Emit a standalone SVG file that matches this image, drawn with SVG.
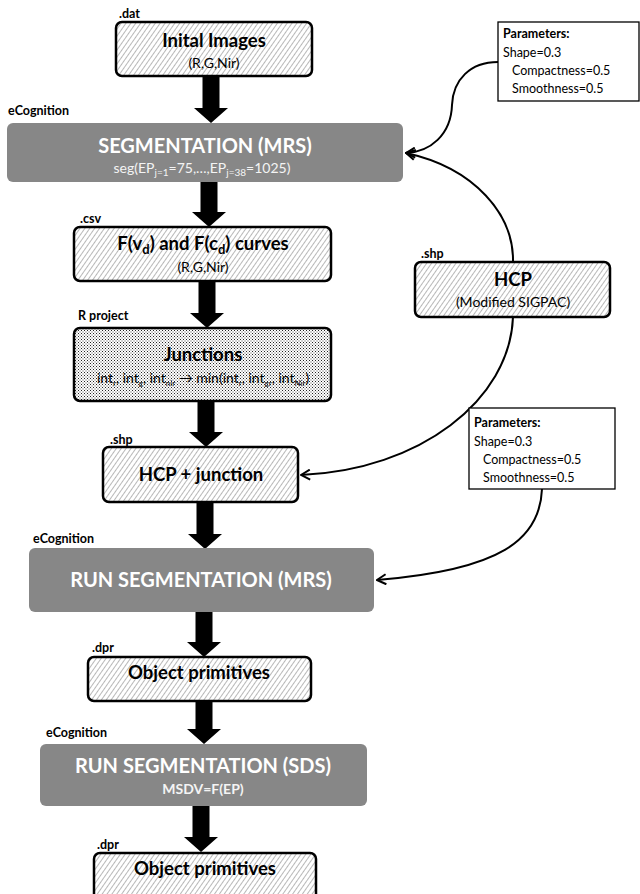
<svg xmlns="http://www.w3.org/2000/svg" width="640" height="894" viewBox="0 0 640 894">
<style>
text{font-family:Lato,"Open Sans","Liberation Sans",sans-serif;fill:#000}
.lbl{font-size:12.5px;font-weight:bold}
.hb{fill:url(#hatch);stroke:#000;stroke-width:2.5}
.db{fill:url(#dots);stroke:#000;stroke-width:2.5}
.gb{fill:#878787;stroke:none}
.t1{font-size:18.5px;font-weight:bold;text-anchor:middle}
.t2{font-size:14px;text-anchor:middle}
.gt{font-size:20px;font-weight:bold;text-anchor:middle;fill:#fff}
.gs{font-size:14px;text-anchor:middle;fill:#f4f4f4}
.pb{fill:#fff;stroke:#000;stroke-width:1.3}
.pt{font-size:12.5px}
.blk{fill:#000}
.cv{fill:none;stroke:#000;stroke-width:2}
</style>
<defs>
<pattern id="hatch" patternUnits="userSpaceOnUse" width="4" height="4" patternTransform="rotate(35)">
<rect width="4" height="4" fill="#fff"/>
<line x1="0.5" y1="0" x2="0.5" y2="4" stroke="#b0b0b0" stroke-width="0.9"/>
</pattern>
<pattern id="dots" patternUnits="userSpaceOnUse" width="3" height="3">
<rect width="3" height="3" fill="#fff"/>
<rect x="0" y="0" width="1" height="1" fill="#222"/>
<rect x="1.5" y="1.5" width="1" height="1" fill="#444"/>
</pattern>
<marker id="open" viewBox="0 0 12 12" refX="11" refY="6" markerWidth="12" markerHeight="12" markerUnits="userSpaceOnUse" orient="auto">
<path d="M2,1 L11,6 L2,11" fill="none" stroke="#000" stroke-width="2"/>
</marker>
</defs>

<g id="connectors">
<polygon class="blk" points="202.5,76 219.5,76 219.5,108 228,108 211,123 194,108 202.5,108"/>
<polygon class="blk" points="200.5,182 217.5,182 217.5,212 226,212 209,227 192,212 200.5,212"/>
<polygon class="blk" points="198.5,281 215.5,281 215.5,313 224,313 207,328 190,313 198.5,313"/>
<polygon class="blk" points="197.5,401 214.5,401 214.5,432 223,432 206,447 189,432 197.5,432"/>
<polygon class="blk" points="196.5,502 213.5,502 213.5,534 222,534 205,549 188,534 196.5,534"/>
<polygon class="blk" points="195.5,612 212.5,612 212.5,642 221,642 204,657 187,642 195.5,642"/>
<polygon class="blk" points="195.5,701 212.5,701 212.5,729 221,729 204,744 187,729 195.5,729"/>
<polygon class="blk" points="192.5,806 209.5,806 209.5,837 218,837 201,852 184,837 192.5,837"/>
<path class="cv" d="M498,62 C470,62 453,80 452,105 C451,135 430,152 406,153" marker-end="url(#open)"/>
<path class="cv" d="M513,262 C514,215 475,168 406,153" marker-end="url(#open)"/>
<path class="cv" d="M513,317 C510,400 420,470 301,475" marker-end="url(#open)"/>
<path class="cv" d="M542,489 C540,540 500,570 377,580" marker-end="url(#open)"/>
</g>

<g id="initial-images">
<text class="lbl" x="119" y="18">.dat</text>
<rect class="hb" x="116" y="22" width="196" height="54" rx="6"/>
<text class="t1" x="214" y="47">Inital Images</text>
<text class="t2" x="214" y="68">(R,G,Nir)</text>
</g>

<g id="segmentation">
<text class="lbl" x="8" y="115">eCognition</text>
<rect class="gb" x="7" y="123" width="396" height="59" rx="6"/>
<text class="gt" x="205" y="153">SEGMENTATION (MRS)</text>
<text class="gs" x="202" y="173">seg(EP<tspan dy="3" font-size="10">j=1</tspan><tspan dy="-3">=75,…,EP</tspan><tspan dy="3" font-size="10">j=38</tspan><tspan dy="-3">=1025)</tspan></text>
</g>

<g id="curves">
<text class="lbl" x="80" y="223">.csv</text>
<rect class="hb" x="74" y="227" width="257" height="54" rx="6"/>
<text class="t1" x="203" y="250">F(v<tspan dy="4" font-size="13">d</tspan><tspan dy="-4">) and F(c</tspan><tspan dy="4" font-size="13">d</tspan><tspan dy="-4">) curves</tspan></text>
<text class="t2" x="203" y="272">(R,G,Nir)</text>
</g>

<g id="junctions">
<text class="lbl" x="78" y="320">R project</text>
<rect class="db" x="74" y="328" width="257" height="73" rx="6"/>
<text class="t1" x="203" y="361" font-size="23.5">Junctions</text>
<text class="t2" x="203" y="383" font-size="13" fill="#333">int<tspan dy="3" font-size="8">r</tspan><tspan dy="-3">, int</tspan><tspan dy="3" font-size="8">g</tspan><tspan dy="-3">, int</tspan><tspan dy="3" font-size="8">nir</tspan><tspan dy="-3"> → min(int</tspan><tspan dy="3" font-size="8">r</tspan><tspan dy="-3">, int</tspan><tspan dy="3" font-size="8">gr</tspan><tspan dy="-3">, int</tspan><tspan dy="3" font-size="8">Nir</tspan><tspan dy="-3">)</tspan></text>
</g>

<g id="hcp">
<text class="lbl" x="421" y="258">.shp</text>
<rect class="hb" x="415" y="262" width="195" height="55" rx="6"/>
<text class="t1" x="513" y="286">HCP</text>
<text class="t2" x="513" y="307" font-size="15">(Modified SIGPAC)</text>
</g>

<g id="params-1">
<rect class="pb" x="498" y="22" width="141" height="79"/>
<text class="pt" x="503" y="38" font-weight="bold">Parameters:</text>
<text class="pt" x="503" y="57">Shape=0.3</text>
<text class="pt" x="512" y="75">Compactness=0.5</text>
<text class="pt" x="512" y="93">Smoothness=0.5</text>
</g>

<g id="hcp-junction">
<text class="lbl" x="110" y="444">.shp</text>
<rect class="hb" x="103" y="447" width="195" height="55" rx="6"/>
<text class="t1" x="201" y="481">HCP + junction</text>
</g>

<g id="params-2">
<rect class="pb" x="469" y="408" width="146" height="81"/>
<text class="pt" x="474" y="427" font-weight="bold">Parameters:</text>
<text class="pt" x="474" y="446">Shape=0.3</text>
<text class="pt" x="483" y="464">Compactness=0.5</text>
<text class="pt" x="483" y="482">Smoothness=0.5</text>
</g>

<g id="run-mrs">
<text class="lbl" x="33" y="543">eCognition</text>
<rect class="gb" x="29" y="548" width="345" height="64" rx="6"/>
<text class="gt" x="201" y="587">RUN SEGMENTATION (MRS)</text>
</g>

<g id="object-primitives-1">
<text class="lbl" x="92" y="652">.dpr</text>
<rect class="hb" x="88" y="657" width="223" height="44" rx="6"/>
<text class="t1" x="199" y="679">Object primitives</text>
</g>

<g id="run-sds">
<text class="lbl" x="46" y="737">eCognition</text>
<rect class="gb" x="40" y="744" width="327" height="62" rx="6"/>
<text class="gt" x="203" y="773">RUN SEGMENTATION (SDS)</text>
<text class="gs" x="203" y="794" font-weight="bold">MSDV=F(EP)</text>
</g>

<g id="object-primitives-2">
<text class="lbl" x="97" y="849">.dpr</text>
<rect class="hb" x="94" y="853" width="222" height="50" rx="6"/>
<text class="t1" x="205" y="875">Object primitives</text>
</g>
</svg>
